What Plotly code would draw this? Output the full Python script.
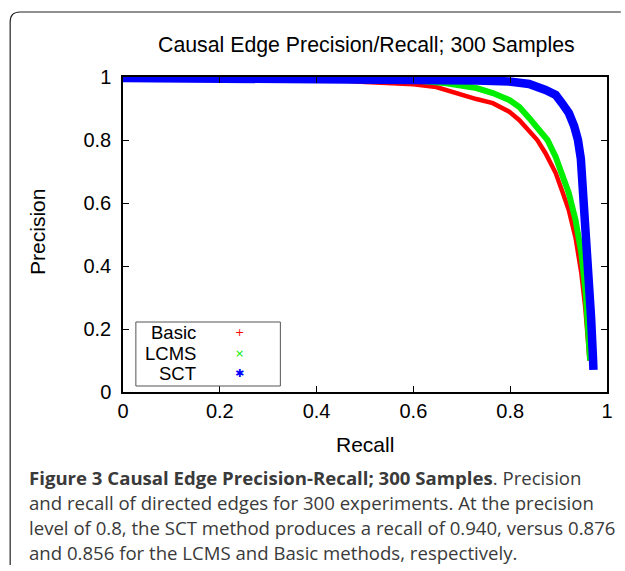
import plotly.graph_objects as go

# ---------------- data ----------------
basic_recall = [0.0, 0.20, 0.35, 0.45, 0.50, 0.60, 0.647, 0.668, 0.70, 0.730, 0.764, 0.798, 0.819,
                0.839, 0.856, 0.873, 0.894, 0.907, 0.921, 0.935, 0.947, 0.955, 0.961, 0.964]
basic_precision = [0.998, 0.996, 0.993, 0.99, 0.984, 0.977, 0.968, 0.958, 0.945, 0.930, 0.917, 0.890,
                   0.863, 0.830, 0.800, 0.758, 0.695, 0.640, 0.578, 0.490, 0.377, 0.270, 0.155, 0.10]

lcms_recall = [0.0, 0.30, 0.50, 0.60, 0.668, 0.730, 0.764, 0.798, 0.819, 0.839, 0.859, 0.877,
               0.894, 0.907, 0.921, 0.935, 0.947, 0.956, 0.962, 0.965]
lcms_precision = [0.998, 0.997, 0.994, 0.99, 0.980, 0.965, 0.949, 0.927, 0.905, 0.870, 0.832, 0.800,
                  0.746, 0.695, 0.632, 0.546, 0.441, 0.314, 0.187, 0.10]

sct_recall = [0.0, 0.40, 0.60, 0.730, 0.798, 0.839, 0.873, 0.894, 0.907, 0.921, 0.932, 0.940,
              0.946, 0.951, 0.957, 0.962, 0.967, 0.971, 0.972]
sct_precision = [0.997, 0.996, 0.993, 0.989, 0.986, 0.978, 0.959, 0.943, 0.917, 0.886, 0.845, 0.800,
                 0.740, 0.640, 0.520, 0.380, 0.240, 0.110, 0.07]

series_names = ["Basic", "LCMS", "SCT"]
series_colors = ["#ff0000", "#00ee00", "#0000ff"]
series_widths = [4.5, 6, 8.5]
series_keys = ["+", "×", "✱"]

x_ticks = [0, 0.2, 0.4, 0.6, 0.8, 1]
y_ticks = [0, 0.2, 0.4, 0.6, 0.8, 1]

title_text = "Causal Edge Precision/Recall; 300 Samples"
caption_lines = [
    "<b>Figure 3 Causal Edge Precision-Recall; 300 Samples</b>. Precision",
    "and recall of directed edges for 300 experiments. At the precision",
    "level of 0.8, the SCT method produces a recall of 0.940, versus 0.876",
    "and 0.856 for the LCMS and Basic methods, respectively.",
]

# ---------------- layout geometry (pixels) ----------------
W, H = 625, 571
L, R, T, B = 123, 612, 77, 392   # plot area edges in pixels


def px(x):
    return (x - L) / (R - L)


def py(y):
    return (B - y) / (B - T)


GFONT = "Liberation Sans, Arial, sans-serif"
fig = go.Figure()

data = [(basic_recall, basic_precision), (lcms_recall, lcms_precision), (sct_recall, sct_precision)]
for (xs, ys), name, col, w in zip(data, series_names, series_colors, series_widths):
    fig.add_trace(go.Scatter(x=xs, y=ys, mode="lines", name=name,
                             line=dict(color=col, width=w), showlegend=False))

axis_common = dict(range=[0, 1], showgrid=False, zeroline=False, showline=True,
                   linecolor="black", linewidth=1.5, mirror="allticks", ticks="inside",
                   ticklen=6, tickwidth=1, tickcolor="black",
                   tickfont=dict(family=GFONT, size=20, color="black"))
fig.update_xaxes(tickvals=x_ticks, ticktext=[f"{v:g}" for v in x_ticks], **axis_common)
fig.update_yaxes(tickvals=y_ticks, ticktext=[f"{v:g}" for v in y_ticks], ticklabelstandoff=6, **axis_common)

ann = []
ann.append(dict(text=title_text, x=px(369), y=py(45), xref="paper", yref="paper",
                showarrow=False, xanchor="center", yanchor="middle",
                font=dict(family=GFONT, size=21.3, color="black")))
ann.append(dict(text="Recall", x=px(368), y=py(444), xref="paper", yref="paper",
                showarrow=False, xanchor="center", yanchor="middle",
                font=dict(family=GFONT, size=21, color="black")))
ann.append(dict(text="Precision", x=px(36), y=py(232), xref="paper", yref="paper",
                showarrow=False, xanchor="center", yanchor="middle", textangle=-90,
                font=dict(family=GFONT, size=21, color="black")))

# legend (gnuplot style: label right-aligned, key to the right)
leg_y = [332.5, 353, 373.5]
for name, col, key, yy in zip(series_names, series_colors, series_keys, leg_y):
    ann.append(dict(text=name, x=px(199), y=py(yy), xref="paper", yref="paper",
                    showarrow=False, xanchor="right", yanchor="middle",
                    font=dict(family=GFONT, size=18.5, color="black")))
    ann.append(dict(text=key, x=px(241), y=py(yy), xref="paper", yref="paper",
                    showarrow=False, xanchor="center", yanchor="middle",
                    font=dict(family="DejaVu Sans", size=11, color=col)))

# caption
cap_y = [477, 502, 527.5, 552.5]
for line, yy in zip(caption_lines, cap_y):
    ann.append(dict(text=line, x=px(26), y=py(yy), xref="paper", yref="paper",
                    showarrow=False, xanchor="left", yanchor="middle", align="left",
                    font=dict(family="Open Sans", size=18.6, color="#3a3a3a")))

shapes = [
    dict(type="rect", xref="paper", yref="paper", x0=px(136), x1=px(282), y0=py(386), y1=py(322),
         line=dict(color="#555555", width=1), fillcolor="rgba(0,0,0,0)"),
    dict(type="path", xref="paper", yref="paper",
         path=(f"M {px(9)},{py(565)} L {px(9)},{py(22)} Q {px(9)},{py(12)} {px(19)},{py(12)} "
               f"L {px(626)},{py(12)}"),
         line=dict(color="#222222", width=1.2)),
]

fig.update_layout(width=W, height=H, margin=dict(l=L, r=W - R, t=T, b=H - B, pad=0),
                  paper_bgcolor="white", plot_bgcolor="white",
                  annotations=ann, shapes=shapes, showlegend=False)

fig.write_html("out.html")
